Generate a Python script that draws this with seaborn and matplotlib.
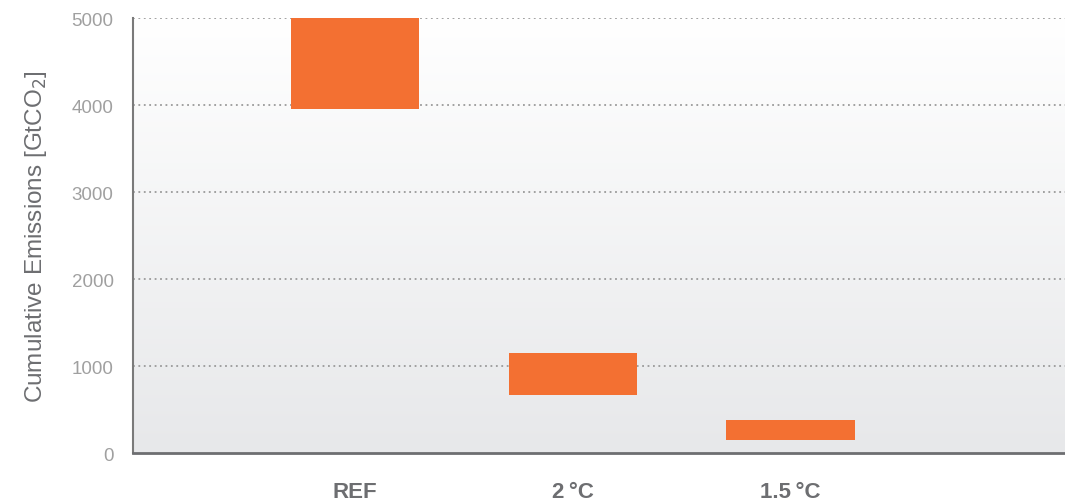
import numpy as np
import pandas as pd
import matplotlib
matplotlib.use("Agg")
import matplotlib.pyplot as plt
import seaborn as sns

# valores (GtCO2)
cenarios = ["REF", "2\u2009°C", "1.5\u2009°C"]
emissao_min = [3950, 670, 150]
emissao_max = [5000, 1150, 380]

dados = pd.DataFrame({"cenario": cenarios, "max": emissao_max, "min": emissao_min})

sns.set_theme(style="white")
plt.rcParams['font.family'] = ['Liberation Sans', 'DejaVu Sans']

fig = plt.figure(figsize=(10.65, 5.02), dpi=100)
ax = fig.add_axes([0.1249, 0.0956, 0.8751, 0.8664])

# fundo em degrade (branco em cima, cinza embaixo)
grad = np.linspace(1, 0, 256).reshape(-1, 1)
cmap = matplotlib.colors.LinearSegmentedColormap.from_list("bg", ["#e7e8ea", "#ffffff"])
ax.imshow(grad, aspect="auto", cmap=cmap, extent=[0, 1, 0, 1],
          transform=ax.transAxes, zorder=0, origin="upper")

sns.barplot(data=dados, x="cenario", y="max", color="#f37032", saturation=1,
            width=0.59, ax=ax, zorder=3)
for barra, baixo, alto in zip(ax.patches, emissao_min, emissao_max):
    barra.set_y(baixo)
    barra.set_height(alto - baixo)
    barra.set_edgecolor("none")

ax.set_xlim(-1.02, 3.26)
ax.set_ylim(0, 5000)
ax.set_yticks([0, 1000, 2000, 3000, 4000, 5000])
for v in [1000, 2000, 3000, 4000, 5000]:
    ax.axhline(v, color="#9a9a9a", linestyle=(0, (1, 2)), linewidth=1.3, zorder=2)

ax.set_xlabel("")
ax.set_ylabel("Cumulative Emissions [GtCO$_2$]", fontsize=17.5, color="#6d6e71", labelpad=16)
ax.tick_params(axis="y", length=0, pad=14, labelsize=13.5, labelcolor="#a0a0a0")
ax.tick_params(axis="x", length=0, pad=20, labelsize=16, labelcolor="#6d6e71")
for t in ax.get_xticklabels():
    t.set_fontweight("bold")

for lado in ["top", "right"]:
    ax.spines[lado].set_visible(False)
ax.spines["left"].set_color("#7a7a7a")
ax.spines["left"].set_linewidth(1.5)
ax.spines["bottom"].set_color("#6d6e71")
ax.spines["bottom"].set_linewidth(2)
ax.set_facecolor("white")

fig.savefig("out.png", dpi=100)
